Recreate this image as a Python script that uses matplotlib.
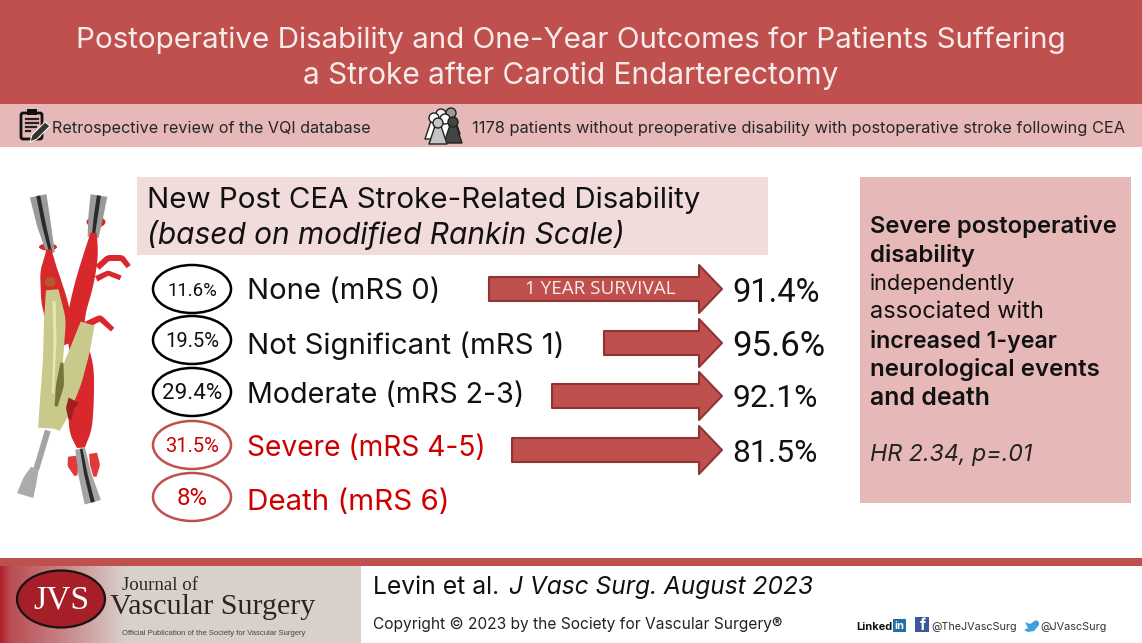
import numpy as np
import matplotlib
matplotlib.use("Agg")
import matplotlib.pyplot as plt
from matplotlib.patches import Ellipse, Polygon, Rectangle, FancyBboxPatch, Circle

plt.rcParams['font.family'] = ['Inter', 'DejaVu Sans']

# chart values
levels = ['None (mRS 0)', 'Not Significant (mRS 1)', 'Moderate (mRS 2-3)', 'Severe (mRS 4-5)', 'Death (mRS 6)']
shares = ['11.6%', '19.5%', '29.4%', '31.5%', '8%']
survival = ['91.4%', '95.6%', '92.1%', '81.5%']

RED = '#C0504D'
PINK = '#E6B8B7'
LIGHT = '#F2DCDB'
DARK_RED = '#CC0000'
ARTERY = '#D8282C'
PLAQUE = '#C9C98B'

fig = plt.figure(figsize=(11.42, 6.43), dpi=100)
ax = fig.add_axes([0, 0, 1, 1])
renderer = fig.canvas.get_renderer()


# put text so that it is as wide as in the reference, whatever the font
def fit_text(x, y, s, width, ha='left', **kw):
    t = ax.text(x, y + 2.5, s, ha=ha, va='center', fontsize=10, **kw)
    w = t.get_window_extent(renderer).width
    t.set_fontsize(10 * width / w)
    return t


def box(x0, y0, x1, y1, color, z=1):
    ax.add_patch(Rectangle((x0, y0), x1 - x0, y1 - y0, fc=color, ec='none', zorder=z))


def poly(pts, fc, ec='none', lw=0, z=3):
    ax.add_patch(Polygon(pts, closed=True, fc=fc, ec=ec, lw=lw, zorder=z, joinstyle='round'))


# soft organ shape: a centre line (x, y) with a width at each point
def tube(xs, ys, ws, fc, z=3, ec='none', lw=0):
    t = np.linspace(0, 1, len(xs))
    tt = np.linspace(0, 1, 80)
    kernel = np.ones(9) / 9
    smooth = lambda v: np.convolve(np.pad(np.interp(tt, t, v), 4, mode='edge'), kernel, mode='valid')
    cx, cy, cw = smooth(xs), smooth(ys), smooth(ws)
    dx, dy = np.gradient(cx), np.gradient(cy)
    n = np.hypot(dx, dy)
    nx, ny = -dy / n, dx / n
    left = np.c_[cx + nx * cw / 2, cy + ny * cw / 2]
    right = np.c_[cx - nx * cw / 2, cy - ny * cw / 2]
    poly(np.r_[left, right[::-1]], fc, ec=ec, lw=lw, z=z)


# bands and boxes
box(0, 0, 1142, 104, RED)
box(0, 104, 1142, 147, PINK)
box(137, 177, 768, 255, LIGHT)
box(860, 177, 1131, 503, PINK)
box(0, 558, 1142, 566, RED)

# header
fit_text(571, 38, 'Postoperative Disability and One-Year Outcomes for Patients Suffering', 996,
         ha='center', color='#F7ECEB')
fit_text(571, 73, 'a Stroke after Carotid Endarterectomy', 538, ha='center', color='#F7ECEB')

# info band
fit_text(52, 126, 'Retrospective review of the VQI database', 319, color='#262626')
fit_text(472, 126, '1178 patients without preoperative disability with postoperative stroke following CEA', 654,
         color='#262626')

# clipboard icon
ax.add_patch(FancyBboxPatch((21, 113), 21, 26, boxstyle='round,pad=0,rounding_size=2',
                            fc='none', ec='#111111', lw=2, zorder=3))
box(27, 109, 37, 115, '#111111', 4)
for yy, x1 in zip([119, 123, 127, 131], [38, 38, 36, 30]):
    ax.plot([26, x1], [yy, yy], color='#222222', lw=1.6, zorder=4)
poly([(30, 142), (32, 135), (45, 122), (50, 126), (37, 139)], '#333333', ec='white', lw=0.7, z=5)


# people icon
def person(x, y, fc, z):
    poly([(x - 9, y + 25), (x - 3, y + 7), (x + 3, y + 7), (x + 9, y + 25)], fc, ec='#222222', lw=1, z=z)
    ax.add_patch(Circle((x, y + 4), 5, fc=fc, ec='#222222', lw=1, zorder=z))


person(441, 110, '#F0F0F0', 3)
person(451, 109, '#9A9A9A', 3)
person(434, 114, '#FFFFFF', 4)
person(445, 115, '#FFFFFF', 4)
person(453, 118, '#444444', 5)
person(438, 119, '#C4C4C4', 6)

# subtitle
fit_text(147, 198, 'New Post CEA Stroke-Related Disability', 556, color='#111111')
fit_text(147, 232, '(based on modified Rankin Scale)', 478, color='#111111', style='italic')

# stroke rows
row_y = [289, 340, 392, 445, 497]
text_y = [289, 343, 393, 446, 500]
label_w = [194, 319, 278, 240, 204]
share_w = [50, 54, 60, 54, 31]
for i in range(len(levels)):
    severe = i >= 3
    ax.add_patch(Ellipse((192, row_y[i]), 78, 48, fc='white', ec=RED if severe else '#000000',
                         lw=1.8, zorder=3))
    fit_text(192, row_y[i] - 1, shares[i], share_w[i], ha='center', color=DARK_RED if severe else '#111111',
             zorder=4, family='Roboto')
    fit_text(247, text_y[i], levels[i], label_w[i], color=DARK_RED if severe else '#111111')

# survival arrows
arrow_x = [489, 604, 552, 512]
arrow_y = [289, 343, 396, 450]
value_y = [291, 345, 397, 452]
value_w = [88, 93, 85, 85]
for i in range(len(survival)):
    x0, y0 = arrow_x[i], arrow_y[i]
    poly([(x0, y0 - 12), (699, y0 - 12), (699, y0 - 24), (722, y0), (699, y0 + 24), (699, y0 + 12), (x0, y0 + 12)],
         RED, ec='#8E3533', lw=1.5)
    fit_text(732, value_y[i] - 1, survival[i], value_w[i], color='#111111', family='Roboto')
fit_text(600, 287, '1 YEAR SURVIVAL', 150, ha='center', color='#F7ECEB', family='Open Sans', zorder=5)

# right box
right_lines = [('Severe postoperative', 224, 247, 'semibold'), ('disability', 253, 104, 'semibold'),
               ('independently', 281, 146, 'normal'), ('associated with', 310, 175, 'normal'),
               ('increased 1-year', 339, 187, 'semibold'), ('neurological events', 367, 230, 'semibold'),
               ('and death', 396, 120, 'semibold')]
for s, yy, w, weight in right_lines:
    fit_text(870, yy, s, w, color='#111111', fontweight=weight)
fit_text(870, 453, 'HR 2.34, p=.01', 163, color='#222222', style='italic')

# carotid illustration: clamps up top
tube([38, 44, 51], [195, 225, 254], [17, 14, 8], '#9A9A9A', z=2)
tube([38, 44, 51], [195, 225, 254], [4, 4, 3], '#2A2A2A', z=3)
tube([99, 96, 93], [195, 215, 238], [17, 15, 11], '#9A9A9A', z=2)
tube([99, 96, 93], [195, 215, 238], [4, 4, 3], '#2A2A2A', z=3)
ax.add_patch(Ellipse((48, 247), 18, 7, fc=ARTERY, ec='none', zorder=1))
ax.add_patch(Ellipse((96, 222), 19, 11, fc=ARTERY, ec='none', zorder=1))

# arteries
tube([49, 49, 54, 60, 68], [248, 272, 300, 325, 345], [4, 18, 26, 26, 22], ARTERY, z=3)
tube([94, 91, 84, 76, 76, 84, 82, 80, 81], [230, 255, 285, 315, 340, 365, 400, 430, 450],
     [5, 15, 19, 17, 18, 20, 24, 24, 6], ARTERY, z=3)
tube([97, 108, 122, 129], [268, 258, 258, 267], [6, 6, 6, 5], ARTERY, z=2)
tube([96, 108, 121], [279, 273, 278], [6, 5, 5], ARTERY, z=2)
tube([86, 100, 113], [325, 318, 330], [7, 6, 5], ARTERY, z=2)
tube([72, 73, 76], [456, 465, 476], [8, 11, 3], '#E03A3A', z=2)
tube([93, 95, 95], [453, 465, 477], [8, 10, 3], '#E03A3A', z=2)

# plaque
tube([52, 55, 53, 50, 48], [288, 320, 360, 400, 430], [12, 22, 20, 20, 20], PLAQUE, z=4)
tube([88, 80, 70, 58, 50], [322, 350, 380, 410, 428], [14, 20, 24, 24, 20], PLAQUE, z=4)
tube([74, 70, 70], [400, 408, 420], [12, 8, 3], '#9E1E22', z=5)
tube([62, 60, 56], [362, 385, 407], [3, 8, 3], '#77753A', z=5)
tube([54, 55, 53], [300, 340, 395], [3, 3, 2], '#E7E7B8', z=5)
ax.add_patch(Ellipse((50, 282), 11, 10, fc='#B5572F', ec='none', zorder=5))

# clamps at the bottom
tube([48, 42, 36], [430, 450, 470], [6, 6, 6], '#A4A4A4', z=3)
tube([35, 30, 25], [468, 480, 496], [8, 14, 17], '#ABABAB', z=3)
tube([80, 85, 93], [448, 475, 503], [10, 13, 17], '#A4A4A4', z=5)
tube([81, 86, 93], [448, 475, 503], [2.5, 3.5, 4], '#2A2A2A', z=6)

# footer logo strip
grad = np.interp(np.linspace(0, 361, 361), [0, 10, 60, 125, 361], [0, 0.25, 0.55, 1, 1])
c0, c1 = np.array(matplotlib.colors.to_rgb('#B0202C')), np.array(matplotlib.colors.to_rgb('#D9D0CA'))
strip = (c0[None, :] * (1 - grad[:, None]) + c1[None, :] * grad[:, None])[None, :, :]
ax.imshow(strip, extent=(0, 361, 643, 566), aspect='auto', zorder=1)
ax.add_patch(Ellipse((61, 599), 88, 57, fc='#A51E28', ec='#1A1212', lw=1.6, zorder=3))
fit_text(61, 598, 'JVS', 56, ha='center', color='white', family='Liberation Serif', zorder=4)
fit_text(122, 583, 'Journal of', 76, color='#2A2622', family='Liberation Serif', zorder=4)
fit_text(110, 605, 'Vascular Surgery', 205, color='#2A2622', family='Liberation Serif', zorder=4)
fit_text(122, 631, 'Official Publication of the Society for Vascular Surgery', 184, color='#444444',
         family='Liberation Sans', zorder=4)

# citation
fit_text(373, 585, 'Levin et al.', 127, color='#111111')
fit_text(509, 585, 'J Vasc Surg. August 2023', 305, color='#111111', style='italic')
fit_text(373, 622, 'Copyright \u00a9 2023 by the Society for Vascular Surgery\u00ae', 411, color='#222222')

# social
fit_text(856, 624, 'Linked', 36, color='#111111', fontweight='bold')
box(893, 619, 906, 632, '#1F6FA8')
ax.text(899.5, 626, 'in', color='white', fontsize=8, fontweight='bold', ha='center', va='center', zorder=4)
box(915, 617, 929, 632, '#3B5998')
ax.text(923, 625, 'f', color='white', fontsize=11, fontweight='bold', ha='center', va='center', zorder=4)
fit_text(931, 624, '@TheJVascSurg', 86, color='#333333')
poly([(1025, 622), (1030, 624), (1036, 620), (1039, 622), (1039, 625), (1034, 631), (1028, 632), (1024, 630),
      (1028, 628)], '#3FA0E0')
fit_text(1040, 624, '@JVascSurg', 67, color='#333333')

ax.set_xlim(0, 1142)
ax.set_ylim(643, 0)
ax.axis('off')

fig.savefig('out.png', dpi=100)
